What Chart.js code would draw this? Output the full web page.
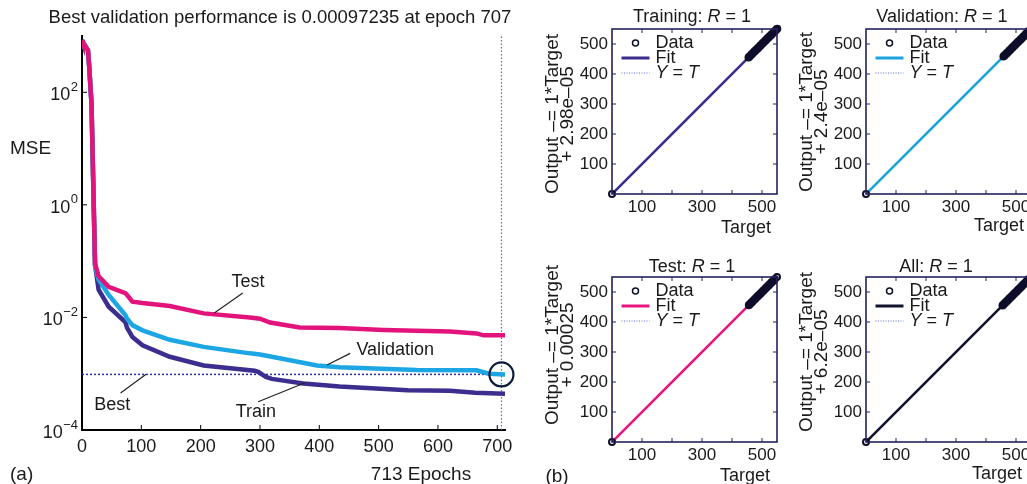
<!DOCTYPE html>
<html>
<head>
<meta charset="utf-8">
<title>Training performance and regression</title>
<script src="https://cdn.jsdelivr.net/npm/chart.js@4.4.1/dist/chart.umd.min.js"></script>
<style>
  html, body { margin: 0; padding: 0; background: #fff; }
  body { width: 1027px; height: 484px; overflow: hidden; position: relative;
         font-family: "Liberation Sans", Arial, sans-serif; color: #1a1a1a; }
  canvas { position: absolute; }
  .t { position: absolute; white-space: nowrap; line-height: 1; transform: translate(-50%, -50%); }
  .l { position: absolute; white-space: nowrap; line-height: 1; transform: translateY(-50%); }
  .rot { position: absolute; white-space: nowrap; line-height: 1; font-size: 19px;
         transform: translate(-50%, -50%) rotate(-90deg); }
  .rt { font-size: 18px; }
</style>
</head>
<body>

<canvas id="perf" width="540" height="484" style="left:0;top:0"></canvas>
<canvas id="regTrain" width="260" height="240" style="left:540px;top:0"></canvas>
<canvas id="regVal" width="260" height="240" style="left:794px;top:0"></canvas>
<canvas id="regTest" width="260" height="240" style="left:540px;top:248px"></canvas>
<canvas id="regAll" width="260" height="240" style="left:794px;top:248px"></canvas>

<!-- (a) performance panel texts -->
<div class="t" style="left:280px;top:17px;font-size:18.5px">Best validation performance is 0.00097235 at epoch 707</div>
<div class="l" style="left:10px;top:147px;font-size:19px">MSE</div>
<div class="l" style="left:10px;top:473px;font-size:19px">(a)</div>
<div class="t" style="left:421px;top:473px;font-size:19px">713 Epochs</div>

<!-- (b) regression panel texts -->
<div class="t rt" style="left:692px;top:16px">Training: <i>R</i> = 1</div>
<div class="t rt" style="left:942px;top:16px">Validation: <i>R</i> = 1</div>
<div class="t rt" style="left:692px;top:266px">Test: <i>R</i> = 1</div>
<div class="t rt" style="left:936px;top:266px">All: <i>R</i> = 1</div>

<div class="rot" style="left:551px;top:114px">Output –= 1*Target</div>
<div class="rot" style="left:566px;top:114px">+ 2.98e–05</div>
<div class="rot" style="left:805px;top:112px">Output –= 1*Target</div>
<div class="rot" style="left:820px;top:112px">+ 2.4e–05</div>
<div class="rot" style="left:551px;top:345px">Output –= 1*Target</div>
<div class="rot" style="left:566px;top:345px">+ 0.00025</div>
<div class="rot" style="left:805px;top:352px">Output –= 1*Target</div>
<div class="rot" style="left:820px;top:352px">+ 6.2e–05</div>

<div class="t rt" style="left:746px;top:227px">Target</div>
<div class="t rt" style="left:999px;top:225px">Target</div>
<div class="t rt" style="left:745px;top:475px">Target</div>
<div class="t rt" style="left:997px;top:473px">Target</div>
<div class="t" style="left:557px;top:475px;font-size:19px">(b)</div>

<script>
// ---------- (a) performance curves ----------
const trainEpochs = [0, 1, 10, 12, 16, 22, 28, 45, 73, 76, 85, 102, 148, 205, 291, 297, 310, 320, 373, 434, 549, 620, 663, 713];
const trainMse    = [850, 790, 560, 300, 63, 0.085, 0.031, 0.0155, 0.0083, 0.0065, 0.0045, 0.0032, 0.0020, 0.0014,
                     0.00113, 0.00108, 0.00088, 0.00081, 0.00067, 0.00059, 0.00051, 0.0005, 0.00046, 0.00044];

const valEpochs = [0, 1, 10, 12, 16, 22, 28, 45, 73, 76, 85, 102, 148, 205, 283, 300, 320, 396, 434, 564, 665, 686, 713];
const valMse    = [850, 790, 560, 300, 63, 0.08, 0.047, 0.025, 0.011, 0.0095, 0.0073, 0.0059, 0.0040, 0.0030,
                   0.0023, 0.0022, 0.0020, 0.0014, 0.0013, 0.00117, 0.00115, 0.00100, 0.00097];

const testEpochs = [0, 1, 10, 12, 16, 22, 28, 45, 73, 76, 85, 102, 148, 205, 283, 300, 317, 367, 434, 508, 620, 665, 677, 713];
const testMse    = [850, 790, 560, 300, 63, 0.09, 0.054, 0.035, 0.027, 0.025, 0.019, 0.018, 0.016, 0.0118,
                    0.0100, 0.0095, 0.0081, 0.0066, 0.0065, 0.0060, 0.0056, 0.0052, 0.0048, 0.0048];

const bestEpoch = 707;
const bestMse = 0.00097235;
const totalEpochs = 713;

const perfXTicks = [0, 100, 200, 300, 400, 500, 600, 700];
const perfYExponents = [-4, -2, 0, 2];

// leader-line annotations, in data coordinates (epoch, mse)
const perfNotes = [
  { text: 'Test',       at: [280, 0.0426],   from: [271, 0.0271],  to: [223, 0.0120] },
  { text: 'Validation', at: [528, 0.00264],  from: [452, 0.0023],  to: [413, 0.00143] },
  { text: 'Best',       at: [51, 0.000278],  from: [65, 0.000454], to: [108, 0.00098] },
  { text: 'Train',      at: [293, 0.000209], from: [297, 0.000318], to: [376, 0.00069] }
];

// ---------- (b) regression panels ----------
const regTicks = [100, 200, 300, 400, 500];
const regXLabels = [100, 300, 500];
const regMax = 550;
const fitRange = [0, 550];

// targets of the plotted samples; outputs equal targets (R = 1)
const trainTargets = [0, 455, 457, 460, 464, 466, 469, 473, 476, 478, 482, 485, 487, 491, 494, 496, 500, 503,
                      505, 509, 512, 514, 518, 521, 523, 527, 530, 532, 536, 539, 541, 545, 548, 551];
const valTargets   = [0, 458, 461, 463, 467, 470, 472, 476, 479, 481, 485, 488, 490, 494, 497, 499, 503, 506,
                      508, 512, 515, 517, 521, 524, 526, 530, 533, 535, 539, 542, 544, 548, 551];
const testTargets  = [0, 456, 458, 461, 465, 467, 470, 474, 477, 479, 483, 486, 488, 492, 495, 497, 501, 504,
                      506, 510, 513, 515, 519, 522, 524, 528, 531, 533, 537, 540, 543, 550];
const allTargets   = [0, 455, 457, 460, 463, 466, 469, 472, 475, 478, 481, 484, 487, 490, 493, 496, 499, 502,
                      505, 508, 511, 514, 517, 520, 523, 526, 529, 532, 535, 538, 541, 544, 547, 550, 552];

const fitSlopes  = [1, 1, 1, 1];                     // Training, Validation, Test, All
const fitOffsets = [2.98e-5, 2.4e-5, 0.00025, 6.2e-5];

Chart.defaults.font.family = '"Liberation Sans", Arial, sans-serif';
Chart.defaults.color = '#1a1a1a';

function pts(xs, ys) { return xs.map((x, i) => ({ x: x, y: ys[i] })); }

// inward ticks, exponent labels and leader notes of the MSE plot
const perfDecor = {
  id: 'perfDecor',
  afterDraw(chart) {
    const { ctx, chartArea: a, scales: { x, y } } = chart;
    ctx.save();
    ctx.strokeStyle = '#000';
    ctx.lineWidth = 1;
    perfXTicks.forEach(v => {
      const px = x.getPixelForValue(v);
      ctx.beginPath(); ctx.moveTo(px, a.bottom); ctx.lineTo(px, a.bottom - 5); ctx.stroke();
    });
    ctx.fillStyle = '#1a1a1a';
    ctx.textAlign = 'right';
    ctx.textBaseline = 'middle';
    perfYExponents.forEach(e => {
      const py = y.getPixelForValue(Math.pow(10, e));
      ctx.beginPath(); ctx.moveTo(a.left, py); ctx.lineTo(a.left + 5, py); ctx.stroke();
      const exp = e < 0 ? '\u2212' + (-e) : String(e);
      const right = a.left - 4;
      ctx.font = '13px "Liberation Sans"';
      ctx.fillText(exp, right, py - 5);
      const w = ctx.measureText(exp).width;
      ctx.font = '18px "Liberation Sans"';
      ctx.fillText('10', right - w - 0.5, py + 3);
    });
    ctx.textAlign = 'center';
    ctx.font = '18px "Liberation Sans"';
    ctx.lineWidth = 1.2;
    ctx.strokeStyle = '#222';
    perfNotes.forEach(n => {
      ctx.fillText(n.text, x.getPixelForValue(n.at[0]), y.getPixelForValue(n.at[1]));
      ctx.beginPath();
      ctx.moveTo(x.getPixelForValue(n.from[0]), y.getPixelForValue(n.from[1]));
      ctx.lineTo(x.getPixelForValue(n.to[0]), y.getPixelForValue(n.to[1]));
      ctx.stroke();
    });
    ctx.restore();
  }
};

new Chart(document.getElementById('perf'), {
  type: 'line',
  data: {
    datasets: [
      { label: 'Best point', data: [{ x: bestEpoch, y: bestMse }], showLine: false, pointRadius: 12,
        pointBorderWidth: 2.2, pointBorderColor: '#0c1a3a', pointBackgroundColor: 'rgba(0,0,0,0)', clip: false, order: 0 },
      { label: 'Test', data: pts(testEpochs, testMse), borderColor: '#e3137c', borderWidth: 4.5, order: 1 },
      { label: 'Validation', data: pts(valEpochs, valMse), borderColor: '#1ca6e4', borderWidth: 4.5, order: 2 },
      { label: 'Train', data: pts(trainEpochs, trainMse), borderColor: '#3b2e8e', borderWidth: 4.5, order: 3 },
      { label: 'Best', data: [{ x: 0, y: bestMse }, { x: bestEpoch, y: bestMse }], borderColor: '#2d2d9a',
        borderWidth: 1.5, borderDash: [2, 2], order: 4 },
      { label: 'Best epoch', data: [{ x: bestEpoch, y: 1e-4 }, { x: bestEpoch, y: 1e3 }], borderColor: '#3a6ae0',
        borderWidth: 1.2, borderDash: [1.5, 2], order: 5 }
    ]
  },
  options: {
    animation: false,
    responsive: false,
    devicePixelRatio: 1,
    layout: { padding: { left: 0, top: 36, right: 35, bottom: 0 } },
    plugins: { legend: { display: false }, tooltip: { enabled: false } },
    elements: { point: { radius: 0 }, line: { tension: 0 } },
    scales: {
      x: {
        type: 'linear', min: 0, max: totalEpochs,
        afterFit: s => { s.height = 54; },
        afterBuildTicks: s => { s.ticks = perfXTicks.map(v => ({ value: v })); },
        grid: { display: false, drawTicks: false },
        border: { display: true, color: '#000', width: 2 },
        ticks: { padding: 6, autoSkip: false, maxRotation: 0, font: { size: 18 } }
      },
      y: {
        type: 'logarithmic', min: 1e-4, max: 1e3,
        afterFit: s => { s.width = 82; },
        afterBuildTicks: s => { s.ticks = perfYExponents.map(e => ({ value: Math.pow(10, e) })); },
        grid: { display: false, drawTicks: false },
        border: { display: true, color: '#000', width: 2 },
        ticks: { display: false }
      }
    }
  },
  plugins: [perfDecor]
});

// frame, inward ticks and legend of a regression panel
const regDecor = {
  id: 'regDecor',
  afterDraw(chart, args, opts) {
    const { ctx, chartArea: a, scales: { x, y } } = chart;
    ctx.save();
    ctx.strokeStyle = '#24245e';
    ctx.lineWidth = 1;
    regTicks.forEach(v => {
      const px = x.getPixelForValue(v), py = y.getPixelForValue(v);
      ctx.beginPath();
      ctx.moveTo(px, a.bottom); ctx.lineTo(px, a.bottom - 4);
      ctx.moveTo(px, a.top); ctx.lineTo(px, a.top + 4);
      ctx.moveTo(a.left, py); ctx.lineTo(a.left + 4, py);
      ctx.moveTo(a.right, py); ctx.lineTo(a.right - 4, py);
      ctx.stroke();
    });
    ctx.lineWidth = 1.6;
    ctx.strokeRect(a.left, a.top, a.right - a.left, a.bottom - a.top);

    // legend
    const lx0 = a.left + 9.5, lx1 = a.left + 37.5, tx = a.left + 43.5;
    ctx.lineWidth = 1.5;
    ctx.strokeStyle = '#101030';
    ctx.beginPath(); ctx.arc((lx0 + lx1) / 2, a.top + 14, 3, 0, Math.PI * 2); ctx.stroke();
    ctx.lineWidth = 3;
    ctx.strokeStyle = opts.fitColor;
    ctx.beginPath(); ctx.moveTo(lx0, a.top + 29); ctx.lineTo(lx1, a.top + 29); ctx.stroke();
    ctx.lineWidth = 1;
    ctx.strokeStyle = '#5a6ad8';
    ctx.setLineDash([1, 1.5]);
    ctx.beginPath(); ctx.moveTo(lx0, a.top + 44); ctx.lineTo(lx1, a.top + 44); ctx.stroke();
    ctx.setLineDash([]);

    ctx.fillStyle = '#1a1a1a';
    ctx.textAlign = 'left';
    ctx.textBaseline = 'middle';
    ctx.font = '18px "Liberation Sans"';
    ctx.fillText('Data', tx, a.top + 14);
    ctx.fillText('Fit', tx, a.top + 29);
    let cx = tx;
    [['Y', true], [' = ', false], ['T', true]].forEach(([s, it]) => {
      ctx.font = (it ? 'italic ' : '') + '18px "Liberation Sans"';
      ctx.fillText(s, cx, a.top + 44);
      cx += ctx.measureText(s).width;
    });
    ctx.restore();
  }
};

function buildRegression(canvasId, targets, fitColor, k) {
  return new Chart(document.getElementById(canvasId), {
    type: 'scatter',
    data: {
      datasets: [
        { label: 'Data', data: targets.map(t => ({ x: t, y: t })), pointRadius: 3, pointBorderWidth: 2,
          pointBorderColor: '#0e0e2a', pointBackgroundColor: 'rgba(0,0,0,0)', clip: false, order: 0 },
        { label: 'Fit', data: fitRange.map(t => ({ x: t, y: fitSlopes[k] * t + fitOffsets[k] })), showLine: true,
          borderColor: fitColor, borderWidth: 2.6, pointRadius: 0, order: 1 },
        { label: 'Y = T', data: fitRange.map(t => ({ x: t, y: t })), showLine: true, borderColor: '#5a6ad8',
          borderWidth: 1, borderDash: [1, 1.5], pointRadius: 0, order: 2 }
      ]
    },
    options: {
      animation: false,
      responsive: false,
      devicePixelRatio: 1,
      layout: { padding: { left: 0, top: 29, right: 23, bottom: 0 } },
      plugins: { legend: { display: false }, tooltip: { enabled: false }, regDecor: { fitColor: fitColor } },
      scales: {
        x: {
          type: 'linear', min: 0, max: regMax,
          afterFit: s => { s.height = 46; },
          afterBuildTicks: s => { s.ticks = regTicks.map(v => ({ value: v })); },
          grid: { display: false, drawTicks: false },
          border: { display: false },
          ticks: { padding: 3, autoSkip: false, maxRotation: 0, font: { size: 17 },
                   callback: v => regXLabels.includes(v) ? String(v) : '' }
        },
        y: {
          type: 'linear', min: 0, max: regMax,
          afterFit: s => { s.width = 72; },
          afterBuildTicks: s => { s.ticks = regTicks.map(v => ({ value: v })); },
          grid: { display: false, drawTicks: false },
          border: { display: false },
          ticks: { padding: 4, autoSkip: false, font: { size: 17 }, callback: v => String(v) }
        }
      }
    },
    plugins: [regDecor]
  });
}

buildRegression('regTrain', trainTargets, '#3a2d8c', 0);
buildRegression('regVal', valTargets, '#1ba3de', 1);
buildRegression('regTest', testTargets, '#e8157f', 2);
buildRegression('regAll', allTargets, '#10122e', 3);
</script>
</body>
</html>
